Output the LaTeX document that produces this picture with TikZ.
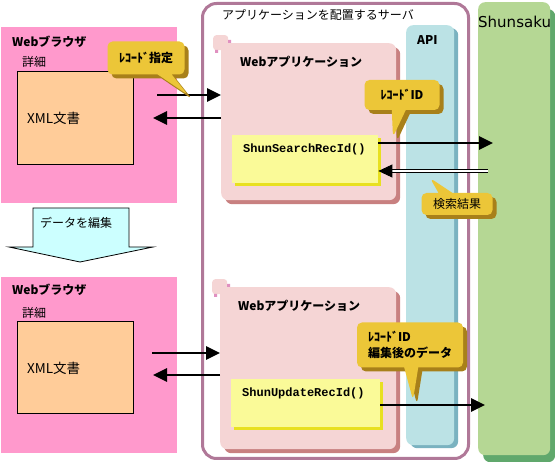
\documentclass[tikz,border=0pt]{standalone}
\usepackage{fontspec}
\newfontfamily\jp{Noto Sans CJK JP}
\newfontfamily\monofn{Liberation Mono}
\newfontfamily\dejavu{DejaVu Sans}
\usetikzlibrary{arrows.meta,shapes.callouts,shadows}

\definecolor{browserpink}{RGB}{255,153,204}
\definecolor{docorange}{RGB}{255,204,153}
\definecolor{servermauve}{RGB}{176,120,152}
\definecolor{apppink}{RGB}{245,213,213}
\definecolor{appshadow}{RGB}{200,128,128}
\definecolor{tabpink}{RGB}{224,144,192}
\definecolor{funcyellow}{RGB}{250,250,152}
\definecolor{funcshadow}{RGB}{232,224,32}
\definecolor{apicyan}{RGB}{187,226,229}
\definecolor{apishadow}{RGB}{122,178,192}
\definecolor{shunsakugreen}{RGB}{181,215,148}
\definecolor{shunsakushadow}{RGB}{96,168,108}
\definecolor{editcyan}{RGB}{204,255,255}
\definecolor{notegold}{RGB}{236,198,56}
\definecolor{noteshadow}{RGB}{168,128,26}

\begin{document}
\begin{tikzpicture}[x=1pt,y=-1pt,
  txt/.style={font=\jp\fontsize{12}{15}\selectfont,inner sep=0pt,anchor=west},
  boldtxt/.style={font=\jp\bfseries\fontsize{12}{15}\selectfont,inner sep=0pt,anchor=west},
  functxt/.style={font=\monofn\bfseries\fontsize{12}{15}\selectfont,inner sep=0pt,anchor=west},
  area/.style={anchor=north west,inner sep=0pt},
  browser/.style={area,fill=browserpink},
  doc/.style={area,fill=docorange,draw=black,line width=0.8pt},
  server/.style={area,draw=servermauve,line width=3pt,rounded corners=14pt},
  app/.style={area,fill=apppink,rounded corners=7pt,
    copy shadow={shadow xshift=4pt,shadow yshift=-4pt,fill=appshadow,draw=none}},
  apptab/.style={area,fill=apppink,rounded corners=3pt,minimum width=15pt,minimum height=15pt},
  func/.style={area,fill=funcyellow,
    copy shadow={shadow xshift=3pt,shadow yshift=-3pt,fill=funcshadow,draw=none}},
  api/.style={area,fill=apicyan,rounded corners=7pt,
    copy shadow={shadow xshift=4pt,shadow yshift=-3pt,fill=apishadow,draw=none}},
  shunsaku/.style={area,fill=shunsakugreen,rounded corners=7pt,
    copy shadow={shadow xshift=5pt,shadow yshift=-7pt,fill=shunsakushadow,draw=none}},
  note/.style={rectangle callout,fill=notegold,rounded corners=5pt,inner sep=0pt,
    callout pointer width=14pt,font=\jp\bfseries\fontsize{12}{16}\selectfont,
    copy shadow={shadow xshift=4pt,shadow yshift=-4pt,fill=noteshadow,draw=none}},
  arr/.style={line width=2.6pt,-{Triangle[length=14pt,width=13pt]}},
  ret/.style={double,double distance=2pt,line width=0.9pt,-{Triangle[length=14pt,width=13pt]}}
]
\useasboundingbox (0,0) rectangle (555,462);

\node[shunsaku,minimum width=72pt,minimum height=453pt] (shun) at (478,2) {};
\node[txt,font=\dejavu\fontsize{15}{18}\selectfont] (shunlabel) at (478,22) {Shunsaku};

\node[server,minimum width=266pt,minimum height=455pt] (server) at (201,2) {};
\node[txt] (serverlabel) at (222,15) {アプリケーションを配置するサーバ};

\node[api,minimum width=48pt,minimum height=420pt] (api) at (406,25) {};
\node[boldtxt] (apilabel) at (417,40) {API};

\node[browser,minimum width=176pt,minimum height=176pt] (browser1) at (1,27) {};
\node[boldtxt] (browserlabel1) at (12,42) {Webブラウザ};
\node[txt] (detail1) at (22,62) {詳細};
\node[doc,minimum width=116pt,minimum height=93pt] (xml1) at (17,71) {};
\node[txt,font=\jp\fontsize{13.5}{16}\selectfont] at (27,118) {XML文書};

\node[browser,minimum width=176pt,minimum height=176pt] (browser2) at (1,277) {};
\node[boldtxt] (browserlabel2) at (12,290) {Webブラウザ};
\node[txt] (detail2) at (22,313) {詳細};
\node[doc,minimum width=116pt,minimum height=92pt] (xml2) at (17,321) {};
\node[txt,font=\jp\fontsize{13.5}{16}\selectfont] at (27,368) {XML文書};

\draw[fill=editcyan,line width=0.8pt] (33,208) -- (129,208) -- (129,247) -- (153,247)
  -- (80,262) -- (9,247) -- (33,247) -- cycle;
\node[txt] (edit) at (40,223) {データを編集};

\node[apptab] (tab1) at (213,35) {};
\node[app,minimum width=175pt,minimum height=157pt] (app1) at (221,43) {};
\fill[tabpink] (228,40) rectangle (231,43) (215,50) rectangle (218,53);
\node[boldtxt] (applabel1) at (240,62) {Webアプリケーション};
\node[func,minimum width=146pt,minimum height=48pt] (search) at (232,135) {};
\node[functxt] at (243,149) {ShunSearchRecId()};

\node[apptab] (tab2) at (212,279) {};
\node[app,minimum width=176pt,minimum height=162pt] (app2) at (220,287) {};
\fill[tabpink] (227,284) rectangle (230,287) (214,294) rectangle (217,297);
\node[boldtxt] (applabel2) at (238,306) {Webアプリケーション};
\node[func,minimum width=149pt,minimum height=48pt] (update) at (231,379) {};
\node[functxt] at (242,393) {ShunUpdateRecId()};

\draw[arr] (157,95) -- (app1.west |- 0,95);
\draw[arr] (app1.west |- 0,118) -- (153,118);
\draw[arr] (152,353) -- (app2.west |- 0,353);
\draw[arr] (app2.west |- 0,375) -- (153,375);
\draw[arr] (search.east |- 0,143) -- (493,143);
\draw[ret] (shun.west |- 0,171) ++(10,0) -- (search.east |- 0,171);
\draw[arr] (update.east |- 0,405) -- (485,405);

\node[note,minimum width=77pt,minimum height=33pt,callout absolute pointer={(188,95)}]
  (recspec) at (146,58) {ﾚｺｰﾄﾞ指定};
\node[note,minimum width=75pt,minimum height=30pt,callout absolute pointer={(393,137)}]
  (recid) at (402,95) {ﾚｺｰﾄﾞID};
\node[note,minimum width=71pt,minimum height=22pt,callout absolute pointer={(430,178)},
  font=\jp\fontsize{12}{16}\selectfont] (result) at (457,204) {検索結果};
\node[note,minimum width=106pt,minimum height=45pt,align=left,callout absolute pointer={(413,400)}]
  (recdata) at (410,345) {ﾚｺｰﾄﾞID\\編集後のデータ};
\end{tikzpicture}
\end{document}
